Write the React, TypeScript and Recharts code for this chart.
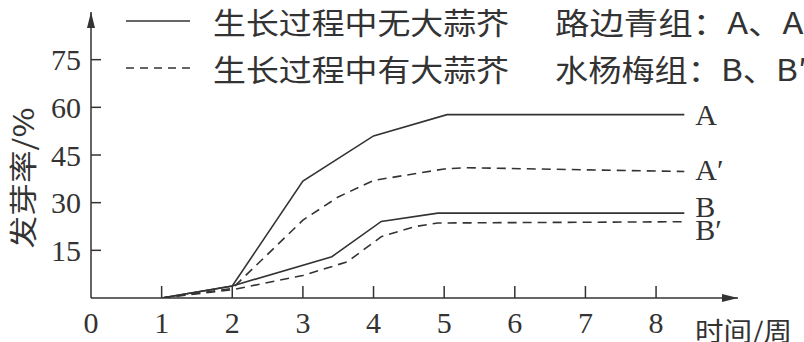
import React from "react";
import { LineChart, Line, XAxis, YAxis, ReferenceDot } from "recharts";

const X_TICKS = [0, 1, 2, 3, 4, 5, 6, 7, 8];
const Y_TICKS = [15, 30, 45, 60, 75];
const X_MAX = 9.16;
const Y_MAX = 90;

const A_X = [1, 2, 3, 4, 5.04, 8.4];
const A_Y = [0, 3.8, 36.8, 51, 57.7, 57.7];
const A2_X = [1, 2, 3, 3.5, 4, 5, 5.3, 8.4];
const A2_Y = [0, 3, 24.5, 31.8, 37, 40.6, 41, 39.8];
const B_X = [1, 2, 3.41, 4.11, 4.91, 8.4];
const B_Y = [0, 3.8, 13, 24.1, 26.7, 26.7];
const B2_X = [1, 2, 3, 3.63, 4.11, 4.59, 4.91, 8.4];
const B2_Y = [0, 2.6, 7.1, 11.4, 19.3, 22.5, 23.6, 24];

const SERIES_LABELS = ["A", "A′", "B", "B′"];
const LEGEND_1 = "生长过程中无大蒜芥";
const LEGEND_2 = "生长过程中有大蒜芥";
const GROUP_1 = "路边青组：A、A′";
const GROUP_2 = "水杨梅组：B、B′";
const Y_LABEL = "发芽率/%";
const X_LABEL = "时间/周";

const INK = "#333";
const FONT = "'Liberation Serif', 'Noto Sans CJK SC', serif";
const CJK = "'Noto Sans CJK SC', 'Liberation Serif', serif";

const zip = (xs: number[], ys: number[]) => xs.map((x, i) => ({ x, y: ys[i] }));
const dataA = zip(A_X, A_Y);
const dataA2 = zip(A2_X, A2_Y);
const dataB = zip(B_X, B_Y);
const dataB2 = zip(B2_X, B2_Y);

const endLabel = (text: string, dy: number, last: number) => (props: any) => {
  const { x, y, index } = props;
  if (index !== last) return null;
  return (
    <text
      x={x + 11}
      y={y + dy}
      fill={INK}
      fontSize={30}
      fontFamily={FONT}
      dominantBaseline="central"
    >
      {text}
    </text>
  );
};

const XTick = (props: any) => {
  const { x, y, payload } = props;
  return (
    <g>
      {payload.value !== 0 && (
        <line x1={x} x2={x} y1={y} y2={y - 12} stroke={INK} strokeWidth={1.5} />
      )}
      <text
        x={x}
        y={y + 24}
        textAnchor="middle"
        dominantBaseline="central"
        fill={INK}
        fontSize={30}
        fontFamily={FONT}
      >
        {payload.value}
      </text>
    </g>
  );
};

const YTick = (props: any) => {
  const { x, y, payload } = props;
  return (
    <g>
      <line x1={x} x2={x + 10} y1={y} y2={y} stroke={INK} strokeWidth={1.5} />
      <text
        x={x - 10}
        y={y}
        textAnchor="end"
        dominantBaseline="central"
        fill={INK}
        fontSize={30}
        fontFamily={FONT}
      >
        {payload.value}
      </text>
    </g>
  );
};

const UpArrow = (p: any) => (
  <path d={`M${p.cx - 4},${p.cy + 16} L${p.cx},${p.cy} L${p.cx + 4},${p.cy + 16} Z`} fill={INK} />
);
const RightArrow = (p: any) => (
  <path d={`M${p.cx - 16},${p.cy - 4} L${p.cx},${p.cy} L${p.cx - 16},${p.cy + 4} Z`} fill={INK} />
);

export default function App() {
  return (
    <div style={{ position: "absolute", left: 0, top: 0, width: 804, height: 342, background: "#fff" }}>
      <LineChart
        width={804}
        height={342}
        margin={{ top: 12, right: 66, left: 0, bottom: 0 }}
        style={{ fontFamily: FONT }}
      >
        <XAxis
          dataKey="x"
          type="number"
          domain={[0, X_MAX]}
          ticks={X_TICKS}
          height={44}
          tickSize={0}
          tickMargin={0}
          tickLine={false}
          axisLine={{ stroke: INK, strokeWidth: 1.5 }}
          tick={<XTick />}
          allowDataOverflow
        />
        <YAxis
          type="number"
          domain={[0, Y_MAX]}
          ticks={Y_TICKS}
          width={91}
          tickSize={0}
          tickMargin={0}
          tickLine={false}
          axisLine={{ stroke: INK, strokeWidth: 1.5 }}
          tick={<YTick />}
          allowDataOverflow
        />
        <Line data={dataA} dataKey="y" type="linear" stroke={INK} strokeWidth={1.6} dot={false}
          isAnimationActive={false} label={endLabel(SERIES_LABELS[0], 0, dataA.length - 1)} />
        <Line data={dataA2} dataKey="y" type="linear" stroke={INK} strokeWidth={1.6} strokeDasharray="9 6" dot={false}
          isAnimationActive={false} label={endLabel(SERIES_LABELS[1], -2, dataA2.length - 1)} />
        <Line data={dataB} dataKey="y" type="linear" stroke={INK} strokeWidth={1.6} dot={false}
          isAnimationActive={false} label={endLabel(SERIES_LABELS[2], -7, dataB.length - 1)} />
        <Line data={dataB2} dataKey="y" type="linear" stroke={INK} strokeWidth={1.6} strokeDasharray="9 6" dot={false}
          isAnimationActive={false} label={endLabel(SERIES_LABELS[3], 8, dataB2.length - 1)} />
        <ReferenceDot x={0} y={Y_MAX} r={0} ifOverflow="visible" shape={UpArrow} />
        <ReferenceDot x={X_MAX} y={0} r={0} ifOverflow="visible" shape={RightArrow} />
        <g fill={INK}>
          <line x1={126} x2={190} y1={21} y2={21} stroke={INK} strokeWidth={1.6} />
          <line x1={126} x2={190} y1={68} y2={68} stroke={INK} strokeWidth={1.6} strokeDasharray="8 6" />
          <text x={213} y={21} fontSize={30} fontFamily={CJK} dominantBaseline="central" textLength={296} lengthAdjust="spacingAndGlyphs">{LEGEND_1}</text>
          <text x={213} y={68} fontSize={30} fontFamily={CJK} dominantBaseline="central" textLength={296} lengthAdjust="spacingAndGlyphs">{LEGEND_2}</text>
          <text x={555} y={21} fontSize={30} fontFamily={CJK} dominantBaseline="central" textLength={258} lengthAdjust="spacingAndGlyphs">{GROUP_1}</text>
          <text x={555} y={68} fontSize={30} fontFamily={CJK} dominantBaseline="central" textLength={252} lengthAdjust="spacingAndGlyphs">{GROUP_2}</text>
          <text x={0} y={0} fontSize={28} fontFamily={CJK} textAnchor="middle" dominantBaseline="central"
            textLength={141} lengthAdjust="spacingAndGlyphs"
            transform="translate(22,178) rotate(-90)">{Y_LABEL}</text>
          <text x={695} y={329} fontSize={26} fontFamily={CJK} dominantBaseline="central" textLength={97} lengthAdjust="spacingAndGlyphs">{X_LABEL}</text>
        </g>
      </LineChart>
    </div>
  );
}
